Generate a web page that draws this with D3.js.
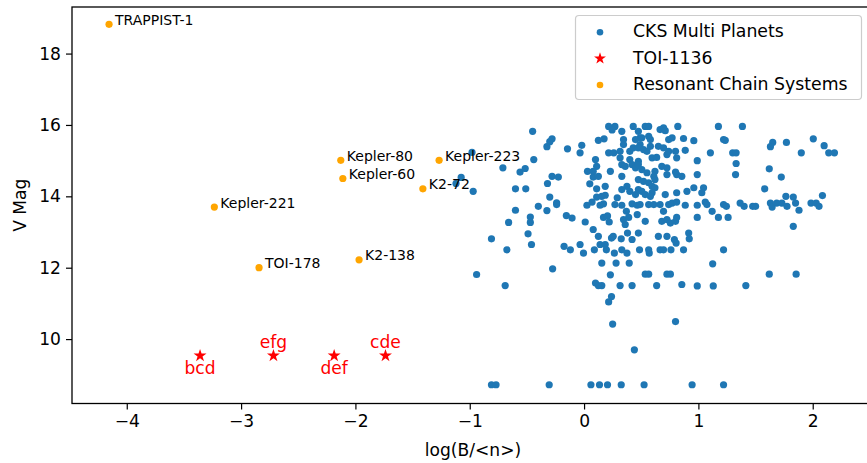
<!DOCTYPE html>
<html>
<head>
<meta charset="utf-8">
<script src="https://cdn.jsdelivr.net/npm/d3@7"></script>
<style>
  html, body { margin: 0; padding: 0; background: #fff; }
  svg { display: block; }
  text { font-family: "DejaVu Sans", sans-serif; }
</style>
</head>
<body>
<svg id="chart" width="867" height="463"></svg>
<script>
// ---------------- data ----------------
// CKS multi-planet systems: [log(B/<n>), V mag]
const cksPoints = [
  [-0.98,15.23],[-1.075,14.53],[-1.12,14.36],[-0.97,14.14],[-0.94,11.81],[-0.45,15.82],[-0.44,15.03],
  [-0.71,14.80],[-0.56,14.68],[-0.515,14.78],[-0.60,14.21],[-0.51,14.21],[-0.32,14.36],[-0.40,13.72],
  [-0.60,13.61],[-0.325,13.60],[-0.47,13.42],[-0.47,13.27],[-0.66,13.27],[-0.49,12.95],[-0.81,12.81],
  [-0.46,12.65],[-0.675,12.50],[-0.69,11.50],[-0.81,8.72],[-0.77,8.72],[-0.305,8.72],[-0.325,15.39],
  [-0.30,15.53],[-0.28,15.61],[-0.145,15.33],[-0.02,15.43],[-0.035,15.22],[-0.28,14.56],[-0.225,14.54],
  [-0.30,13.98],[-0.24,13.82],[-0.24,13.77],[-0.275,11.97],[-0.155,13.46],[-0.105,13.39],[0.01,13.28],
  [-0.175,12.60],[-0.12,12.50],[-0.035,12.65],[-0.005,12.41],[0.03,14.70],[0.05,14.35],[0.08,14.54],
  [0.10,15.03],[0.11,14.84],[0.08,14.70],[0.11,14.21],[0.11,13.98],[0.155,14.00],[0.185,14.03],
  [0.185,14.28],[0.025,13.75],[0.07,13.84],[0.14,13.75],[0.17,13.79],[0.125,15.57],[0.175,15.61],
  [0.08,13.07],[0.125,12.88],[0.09,12.50],[0.14,12.65],[0.185,12.65],[0.195,12.50],[0.155,12.13],
  [0.10,11.57],[0.125,11.50],[0.155,11.50],[0.06,8.72],[0.135,8.72],[0.17,13.41],[0.205,13.45],
  [0.22,13.28],[0.215,15.96],[0.27,15.96],[0.245,15.86],[0.33,15.82],[0.43,15.96],[0.475,15.82],
  [0.49,15.64],[0.45,15.59],[0.345,15.59],[0.345,15.45],[0.215,15.22],[0.26,15.22],[0.315,15.26],
  [0.40,15.26],[0.43,15.36],[0.315,15.08],[0.33,14.89],[0.36,14.84],[0.40,15.03],[0.42,14.89],
  [0.45,14.80],[0.475,14.98],[0.23,14.70],[0.125,14.56],[0.33,14.56],[0.33,14.19],[0.375,14.28],
  [0.40,14.14],[0.45,14.05],[0.475,14.19],[0.29,13.96],[0.27,13.77],[0.33,13.75],[0.42,13.79],
  [0.465,13.75],[0.345,13.35],[0.36,13.21],[0.39,13.41],[0.37,13.58],[0.465,13.49],[0.24,12.83],
  [0.255,12.88],[0.325,12.81],[0.38,12.97],[0.42,12.79],[0.475,12.97],[0.265,12.41],[0.33,12.50],
  [0.375,12.41],[0.485,12.50],[0.28,12.13],[0.395,12.13],[0.23,11.80],[0.315,11.50],[0.42,11.50],
  [0.24,11.19],[0.215,11.04],[0.25,10.42],[0.44,9.70],[0.205,8.72],[0.325,8.72],[0.525,8.72],
  [0.535,15.96],[0.565,15.96],[0.665,15.87],[0.695,15.92],[0.71,15.84],[0.82,15.96],[1.175,15.96],
  [0.505,15.64],[0.58,15.59],[0.565,15.68],[0.74,15.59],[0.77,15.64],[0.87,15.62],[0.96,15.56],
  [1.22,15.59],[0.49,15.45],[0.475,15.36],[0.52,15.31],[0.55,15.26],[0.58,15.40],[0.65,15.40],
  [0.695,15.36],[0.595,15.08],[0.635,15.09],[0.725,15.17],[0.74,15.26],[0.80,15.26],[0.81,15.08],
  [0.885,15.29],[0.99,15.00],[1.105,15.22],[0.475,14.89],[0.505,14.75],[0.55,14.66],[0.68,14.84],
  [0.725,14.80],[0.62,14.70],[0.61,14.56],[0.62,14.47],[0.725,14.61],[0.81,14.61],[0.80,14.68],
  [0.855,14.56],[0.99,14.61],[0.475,14.47],[0.52,14.42],[0.565,14.38],[0.595,14.28],[0.62,14.24],
  [0.595,14.10],[0.505,14.14],[0.535,14.05],[0.58,14.00],[0.71,14.05],[0.81,14.10],[0.90,14.14],
  [0.96,14.24],[1.045,14.24],[1.03,14.10],[0.49,13.77],[0.565,13.77],[0.61,13.77],[0.665,13.77],
  [0.74,13.77],[0.77,13.81],[0.81,13.84],[0.885,13.75],[0.99,13.75],[1.06,13.84],[1.075,13.77],
  [1.22,13.77],[1.33,14.92],[1.325,14.61],[1.30,15.22],[1.33,15.22],[1.385,15.96],[1.235,15.57],
  [0.535,13.30],[0.68,13.30],[0.725,13.35],[0.755,13.25],[0.80,13.30],[0.81,13.41],[0.99,13.41],
  [1.175,13.41],[1.26,13.41],[0.65,12.88],[0.725,12.88],[0.79,12.79],[0.805,12.69],[0.915,12.97],
  [0.92,12.81],[0.565,12.50],[0.57,12.41],[0.665,12.50],[0.695,12.50],[0.76,12.50],[0.87,12.50],
  [1.22,12.50],[1.125,12.11],[0.535,11.82],[0.565,11.82],[0.725,11.82],[0.755,11.82],[0.635,11.50],
  [0.855,11.53],[0.99,11.49],[1.13,11.49],[0.80,10.49],[0.945,8.72],[1.22,8.72],[1.65,15.51],
  [1.63,15.39],[1.77,15.51],[2.005,15.61],[2.10,15.42],[2.14,15.22],[2.19,15.22],[1.90,15.22],
  [1.62,14.77],[1.725,14.54],[1.58,14.21],[1.765,14.00],[1.83,13.98],[1.85,13.81],[2.085,14.02],
  [1.245,13.72],[1.365,13.81],[1.40,13.72],[1.475,13.72],[1.50,13.72],[1.63,13.81],[1.645,13.70],
  [1.685,13.81],[1.73,13.81],[1.775,13.72],[1.88,13.61],[1.985,13.81],[2.03,13.81],[2.055,13.72],
  [1.83,13.16],[1.62,11.82],[1.855,11.82],[1.415,11.50],[1.12,13.58],[0.695,13.58]
];

// TOI-1136 adjacent planet triplets
const toiLabels = ["bcd", "efg", "def", "cde"];
const toiLogB   = [-3.359, -2.717, -2.186, -1.737];
const toiVmag   = [9.534, 9.534, 9.534, 9.534];
const toiLabelSide = ["below", "above", "below", "above"];

// Resonant chain systems
const chainNames = ["TRAPPIST-1", "Kepler-221", "TOI-178", "Kepler-80", "Kepler-60", "K2-138", "K2-72", "Kepler-223"];
const chainLogB  = [-4.155, -3.234, -2.843, -2.128, -2.110, -1.968, -1.410, -1.268];
const chainVmag  = [18.82, 13.70, 12.00, 15.01, 14.50, 12.22, 14.21, 15.01];

const xTicks = [-4, -3, -2, -1, 0, 1, 2];
const yTicks = [10, 12, 14, 16, 18];
const legendLabels = ["CKS Multi Planets", "TOI-1136", "Resonant Chain Systems"];

// ---------------- layout ----------------
const colors = { cks: "#1f77b4", toi: "#ff0000", chain: "#ffa500" };
const plot = { left: 72, right: 874, top: 7, bottom: 403.5 };
const svg = d3.select("#chart");

const x = d3.scaleLinear().domain([-4.479, 2.536]).range([plot.left, plot.right]);
const y = d3.scaleLinear().domain([8.195, 19.305]).range([plot.bottom, plot.top]);

const g = svg.append("g");

// points
const dotR = 3.6;
g.append("g").selectAll("circle").data(cksPoints).join("circle")
  .attr("cx", d => x(d[0])).attr("cy", d => y(d[1])).attr("r", dotR)
  .attr("fill", colors.cks);

const star = d3.symbol().type(d3.symbolStar).size(52);
const toiData = toiLabels.map((l, i) => ({ label: l, x: toiLogB[i], y: toiVmag[i], side: toiLabelSide[i] }));
g.append("g").selectAll("path").data(toiData).join("path")
  .attr("d", star).attr("transform", d => `translate(${x(d.x)},${y(d.y)})`)
  .attr("fill", colors.toi);

const chainData = chainNames.map((n, i) => ({ name: n, x: chainLogB[i], y: chainVmag[i] }));
g.append("g").selectAll("circle").data(chainData).join("circle")
  .attr("cx", d => x(d.x)).attr("cy", d => y(d.y)).attr("r", dotR)
  .attr("fill", colors.chain);

// annotations
g.append("g").selectAll("text").data(chainData).join("text")
  .attr("x", d => x(d.x) + 6).attr("y", d => y(d.y) + 0.5)
  .attr("font-size", 14).attr("fill", "#000").text(d => d.name);

g.append("g").selectAll("text").data(toiData).join("text")
  .attr("x", d => x(d.x))
  .attr("y", d => d.side === "below" ? y(d.y) + 18.5 : y(d.y) - 8)
  .attr("text-anchor", "middle").attr("font-size", 17.1).attr("fill", colors.toi)
  .text(d => d.label);

// axes
const xAxis = d3.axisBottom(x).tickValues(xTicks).tickSize(6).tickPadding(5).tickFormat(d3.format("d"));
const yAxis = d3.axisLeft(y).tickValues(yTicks).tickSize(6).tickPadding(5).tickFormat(d3.format("d"));

const gx = svg.append("g").attr("transform", `translate(0,${plot.bottom})`).call(xAxis);
const gy = svg.append("g").attr("transform", `translate(${plot.left},0)`).call(yAxis);
[gx, gy].forEach(a => {
  a.select(".domain").remove();
  a.selectAll(".tick line").attr("stroke", "#000").attr("stroke-width", 1.2);
  a.selectAll(".tick text").attr("font-family", "DejaVu Sans").attr("font-size", 17.1).attr("fill", "#000");
});

// frame (spines)
svg.append("rect")
  .attr("x", plot.left).attr("y", plot.top)
  .attr("width", plot.right - plot.left).attr("height", plot.bottom - plot.top)
  .attr("fill", "none").attr("stroke", "#000").attr("stroke-width", 1.3);

// axis labels
svg.append("text").attr("x", (plot.left + plot.right) / 2).attr("y", 456)
  .attr("text-anchor", "middle").attr("font-size", 17.1).text("log(B/<n>)");
svg.append("text")
  .attr("transform", `translate(26,${(plot.top + plot.bottom) / 2}) rotate(-90)`)
  .attr("text-anchor", "middle").attr("font-size", 17.1).text("V Mag");

// legend
const leg = svg.append("g");
leg.append("rect").attr("x", 575.5).attr("y", 15.5).attr("width", 286).attr("height", 84)
  .attr("rx", 3.5).attr("fill", "#fff").attr("fill-opacity", 0.8)
  .attr("stroke", "#cccccc").attr("stroke-width", 1.2);
const legY = [32.3, 58.5, 85];
const legMarkerX = 600;
leg.append("circle").attr("cx", legMarkerX).attr("cy", legY[0]).attr("r", 3.3).attr("fill", colors.cks);
leg.append("path").attr("d", d3.symbol().type(d3.symbolStar).size(44))
  .attr("transform", `translate(${legMarkerX},${legY[1]})`).attr("fill", colors.toi);
leg.append("circle").attr("cx", legMarkerX).attr("cy", legY[2]).attr("r", 3.3).attr("fill", colors.chain);
leg.selectAll("text.l").data(legendLabels).join("text").attr("class", "l")
  .attr("x", 633).attr("y", (d, i) => legY[i] + 5)
  .attr("font-size", 17.3).attr("fill", "#000").text(d => d);
</script>
</body>
</html>
